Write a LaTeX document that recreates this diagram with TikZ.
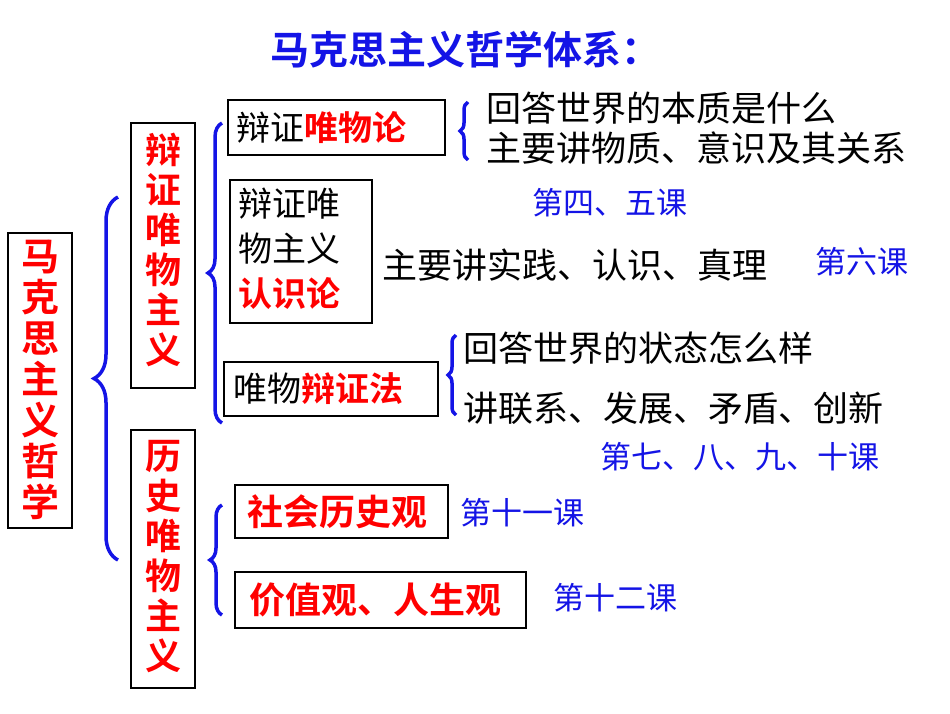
\documentclass[tikz,border=0pt]{standalone}
\usepackage{fontspec}
\setmainfont{Noto Sans CJK SC}
\newfontfamily\cjkb{Noto Sans CJK SC Bold}
\usetikzlibrary{decorations.pathreplacing}
\definecolor{tblue}{RGB}{20,20,230}
\tikzset{
 box/.style={draw=black,line width=2pt,inner sep=0pt},
 red/.style={text=red,font=\cjkb\fontsize{36}{40}\selectfont},
 blk/.style={text=black,font=\fontsize{35}{40}\selectfont,anchor=west,inner sep=0pt},
 blu/.style={text=tblue,font=\fontsize{31}{36}\selectfont},
 br/.style={draw=tblue,line width=3.5pt,decorate,decoration={brace,amplitude=#1}},
 br/.default=14pt
}
\begin{document}
\begin{tikzpicture}[x=1pt,y=-1pt]
\useasboundingbox[fill=white] (0,0) rectangle (950,713);
\node[text=tblue,font=\cjkb\fontsize{39}{44}\selectfont] (title) at (465,50) {马克思主义哲学体系：};
% left
\draw[box] (8,233) rectangle (72,528);
\node[red,font=\cjkb\fontsize{38}{41}\selectfont,align=center] (mk) at (40,380) {马\\克\\思\\主\\义\\哲\\学};
\draw[br=24pt] (118,560) -- (118,197);
\draw[box] (131,123) rectangle (195,388);
\node[red,font=\cjkb\fontsize{36}{40}\selectfont,align=center] (bz) at (163,250) {辩\\证\\唯\\物\\主\\义};
\draw[box] (131,430) rectangle (195,688);
\node[red,font=\cjkb\fontsize{36}{40}\selectfont,align=center] (ls) at (163,557) {历\\史\\唯\\物\\主\\义};
\draw[br=14pt] (222,423) -- (222,123);
\draw[br=12pt] (222,615) -- (222,505);
% level 2
\draw[box] (228,100) rectangle (445,155);
\node[anchor=west,inner sep=0pt] (a) at (236,128) {\fontsize{34}{38}\selectfont 辩证\textcolor{red}{\cjkb 唯物论}};
\draw[box] (230,180) rectangle (372,323);
\node[align=left,anchor=north west,inner sep=0pt,font=\fontsize{34}{45}\selectfont] (b) at (238,188) {辩证唯\\物主义\\\textcolor{red}{\cjkb 认识论}};
\draw[box] (224,362) rectangle (438,416);
\node[anchor=west,inner sep=0pt] (c) at (233,389) {\fontsize{34}{38}\selectfont 唯物\textcolor{red}{\cjkb 辩证法}};
\draw[box] (235,485) rectangle (448,538);
\node[red] (d) at (337,512) {社会历史观};
\draw[box] (235,572) rectangle (526,628);
\node[red] (e) at (375,600) {价值观、人生观};
% right texts
\draw[br=8pt] (468,160) -- (468,102);
\node[blk] (t1) at (486,108) {回答世界的本质是什么};
\node[blk] (t2) at (486,148) {主要讲物质、意识及其关系};
\node[blu] (k1) at (610,203) {第四、五课};
\node[blk] (t3) at (382,265) {主要讲实践、认识、真理};
\node[blu] (k2) at (862,262) {第六课};
\draw[br=8pt] (456,415) -- (456,335);
\node[blk] (t4) at (463,348) {回答世界的状态怎么样};
\node[blk] (t5) at (463,408) {讲联系、发展、矛盾、创新};
\node[blu] (k3) at (740,457) {第七、八、九、十课};
\node[blu] (k4) at (522,513) {第十一课};
\node[blu] (k5) at (615,598) {第十二课};
\end{tikzpicture}
\end{document}
